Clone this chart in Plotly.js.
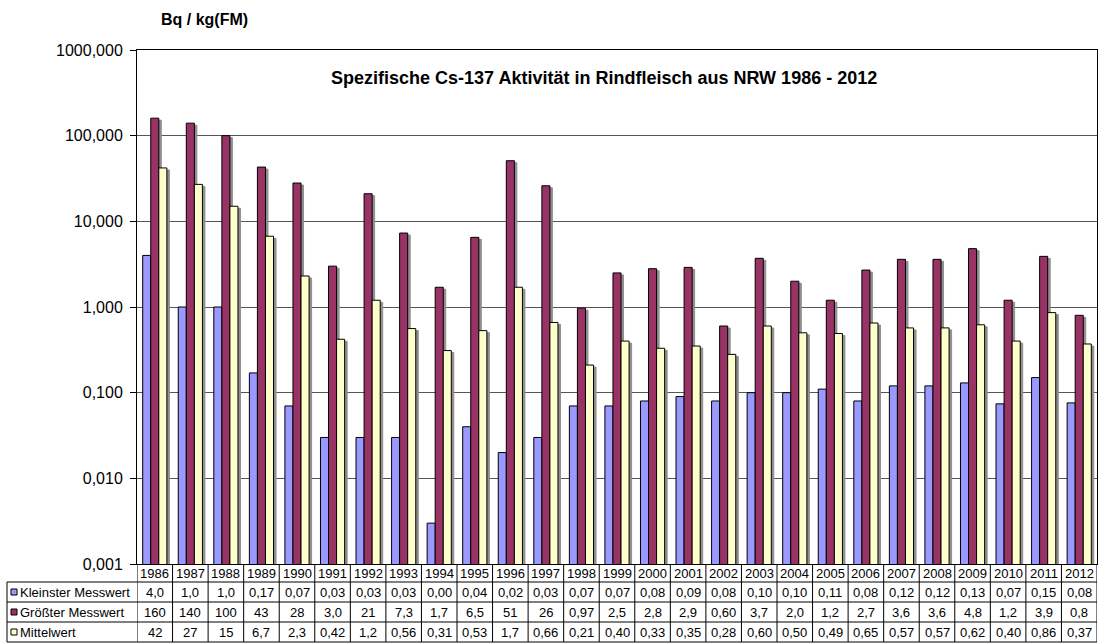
<!DOCTYPE html>
<html>
<head>
<meta charset="utf-8">
<script src="https://cdn.plot.ly/plotly-3.0.1.min.js"></script>
<style>html,body{margin:0;padding:0;background:#fff;}#chart{width:1103px;height:643px;}</style>
</head>
<body>
<div id="chart"></div>
<script>
// ---- data ----
const years = ['1986','1987','1988','1989','1990','1991','1992','1993','1994','1995','1996','1997','1998','1999','2000','2001','2002','2003','2004','2005','2006','2007','2008','2009','2010','2011','2012'];
const seriesNames = ['Kleinster Messwert', 'Größter Messwert', 'Mittelwert'];
const kleinster = [4.0,1.0,1.0,0.17,0.07,0.03,0.03,0.03,0.003,0.04,0.02,0.03,0.07,0.07,0.08,0.09,0.08,0.10,0.10,0.11,0.08,0.12,0.12,0.13,0.074,0.15,0.076];
const groesster = [160,140,100,43,28,3.0,21,7.3,1.7,6.5,51,26,0.97,2.5,2.8,2.9,0.60,3.7,2.0,1.2,2.7,3.6,3.6,4.8,1.2,3.9,0.8];
const mittelwert = [42,27,15,6.7,2.3,0.42,1.2,0.56,0.31,0.53,1.7,0.66,0.21,0.40,0.33,0.35,0.28,0.60,0.50,0.49,0.65,0.57,0.57,0.62,0.40,0.86,0.37];
const kleinsterText = ['4,0','1,0','1,0','0,17','0,07','0,03','0,03','0,03','0,00','0,04','0,02','0,03','0,07','0,07','0,08','0,09','0,08','0,10','0,10','0,11','0,08','0,12','0,12','0,13','0,07','0,15','0,08'];
const groessterText = ['160','140','100','43','28','3,0','21','7,3','1,7','6,5','51','26','0,97','2,5','2,8','2,9','0,60','3,7','2,0','1,2','2,7','3,6','3,6','4,8','1,2','3,9','0,8'];
const mittelwertText = ['42','27','15','6,7','2,3','0,42','1,2','0,56','0,31','0,53','1,7','0,66','0,21','0,40','0,33','0,35','0,28','0,60','0,50','0,49','0,65','0,57','0,57','0,62','0,40','0,86','0,37'];
const yTickVals = [0.001,0.01,0.1,1,10,100,1000];
const yTickText = ['0,001','0,010','0,100','1,000','10,000','100,000','1000,000'];
const colors = ['#9999FF','#993366','#FFFFCC'];
const shadowColor = '#8f8f8f';
const chartTitle = 'Spezifische Cs-137 Aktivität in Rindfleisch aus NRW 1986 - 2012';
const unitLabel = 'Bq / kg(FM)';

// ---- geometry ----
const W = 1103, H = 643;
const mL = 137, mR = 6, mT = 50, mB = 79;
const plotW = W - mL - mR, plotH = H - mT - mB;
const bottomPx = H - mB;
const rowPx = [bottomPx, 582, 602, 622, 642];
const py = p => (bottomPx - p) / plotH;      // pixel y -> paper y
const px = p => (p - mL) / plotW;            // pixel x -> paper x
const FONT = 'Liberation Sans, Arial, sans-serif';
const nCat = years.length;
const xRange = [-0.5, nCat - 0.5];
const yRange = [-3, 3];
const shX = 2.5 * nCat / plotW;        // shadow offset: 2.5 px right
const shY = 2 * 6 / plotH;             // shadow offset: 2 px down (decades)

const xs = years.map((_, i) => i);
const vals = [kleinster, groesster, mittelwert];
const shadowTraces = vals.map((v, k) => ({
  type: 'bar', x: xs, y: v, name: seriesNames[k] + ' shadow', xaxis: 'x', yaxis: 'y',
  marker: {color: shadowColor, line: {color: shadowColor, width: 1}}, hoverinfo: 'skip'
}));
const traces = vals.map((v, k) => ({
  type: 'bar', x: xs, y: v, name: seriesNames[k], xaxis: 'x2', yaxis: 'y2',
  marker: {color: colors[k], line: {color: '#000', width: 1}},
  hoverinfo: 'x+y'
}));

const shapes = [];
const annotations = [];
const lineStyle = {color: '#000', width: 1};
for (let r = 1; r < rowPx.length; r++) {
  shapes.push({type: 'line', xref: 'paper', yref: 'paper', x0: px(7), x1: 1, y0: py(rowPx[r]), y1: py(rowPx[r]), line: lineStyle});
}
for (let i = 0; i <= nCat; i++) {
  shapes.push({type: 'line', xref: 'x2', yref: 'paper', x0: i - 0.5, x1: i - 0.5, y0: py(rowPx[0]), y1: py(rowPx[4]), line: lineStyle});
}
shapes.push({type: 'line', xref: 'paper', yref: 'paper', x0: px(7), x1: px(7), y0: py(rowPx[1]), y1: py(rowPx[4]), line: lineStyle});

const rowTexts = [years, kleinsterText, groessterText, mittelwertText];
for (let r = 0; r < 4; r++) {
  const yc = py((rowPx[r] + rowPx[r + 1]) / 2);
  rowTexts[r].forEach((t, i) => {
    annotations.push({xref: 'x2', yref: 'paper', x: i, y: yc, text: t, showarrow: false,
      xanchor: 'center', yanchor: 'middle', font: {family: FONT, size: 13, color: '#000'}});
  });
  if (r > 0) {
    const k = r - 1;
    shapes.push({type: 'rect', xref: 'paper', yref: 'paper', x0: px(11), x1: px(17), y0: yc - 3 / plotH, y1: yc + 3 / plotH,
      fillcolor: colors[k], line: {color: '#000', width: 1}});
    annotations.push({xref: 'paper', yref: 'paper', x: px(18), y: yc, text: seriesNames[k], showarrow: false,
      xanchor: 'left', yanchor: 'middle', font: {family: FONT, size: 13, color: '#000'}});
  }
}
annotations.push({xref: 'paper', yref: 'paper', x: px(604), y: py(78), text: '<b>' + chartTitle + '</b>', showarrow: false,
  xanchor: 'center', yanchor: 'middle', font: {family: FONT, size: 18, color: '#000'}});
annotations.push({xref: 'paper', yref: 'paper', x: px(204), y: py(20), text: '<b>' + unitLabel + '</b>', showarrow: false,
  xanchor: 'center', yanchor: 'middle', font: {family: FONT, size: 16, color: '#000'}});

const layout = {
  width: W, height: H,
  margin: {l: mL, r: mR, t: mT, b: mB, pad: 0},
  paper_bgcolor: '#fff', plot_bgcolor: '#fff',
  showlegend: false,
  barmode: 'group', bargap: 0.32, bargroupgap: 0,
  font: {family: FONT, size: 13, color: '#000'},
  xaxis: {range: [xRange[0] - shX, xRange[1] - shX], showticklabels: false, ticks: '', showgrid: false,
    showline: true, linecolor: '#000', linewidth: 1, mirror: true, zeroline: false, fixedrange: true},
  yaxis: {type: 'log', range: [yRange[0] + shY, yRange[1] + shY], showticklabels: false, ticks: '', showgrid: false,
    showline: true, linecolor: '#000', linewidth: 1, mirror: true, zeroline: false, fixedrange: true},
  xaxis2: {overlaying: 'x', range: xRange, showticklabels: false, ticks: '', showgrid: false, showline: false,
    zeroline: false, fixedrange: true},
  yaxis2: {overlaying: 'y', side: 'left', type: 'log', range: yRange, tickvals: yTickVals, ticktext: yTickText,
    ticks: 'outside', ticklen: 6, tickcolor: '#000', showline: false,
    showgrid: true, gridcolor: '#555', gridwidth: 1, zeroline: false, ticklabelstandoff: 4,
    tickfont: {family: FONT, size: 16, color: '#000'}, fixedrange: true},
  shapes: shapes,
  annotations: annotations
};
Plotly.newPlot('chart', shadowTraces.concat(traces), layout, {displayModeBar: false, staticPlot: true});
</script>
</body>
</html>
